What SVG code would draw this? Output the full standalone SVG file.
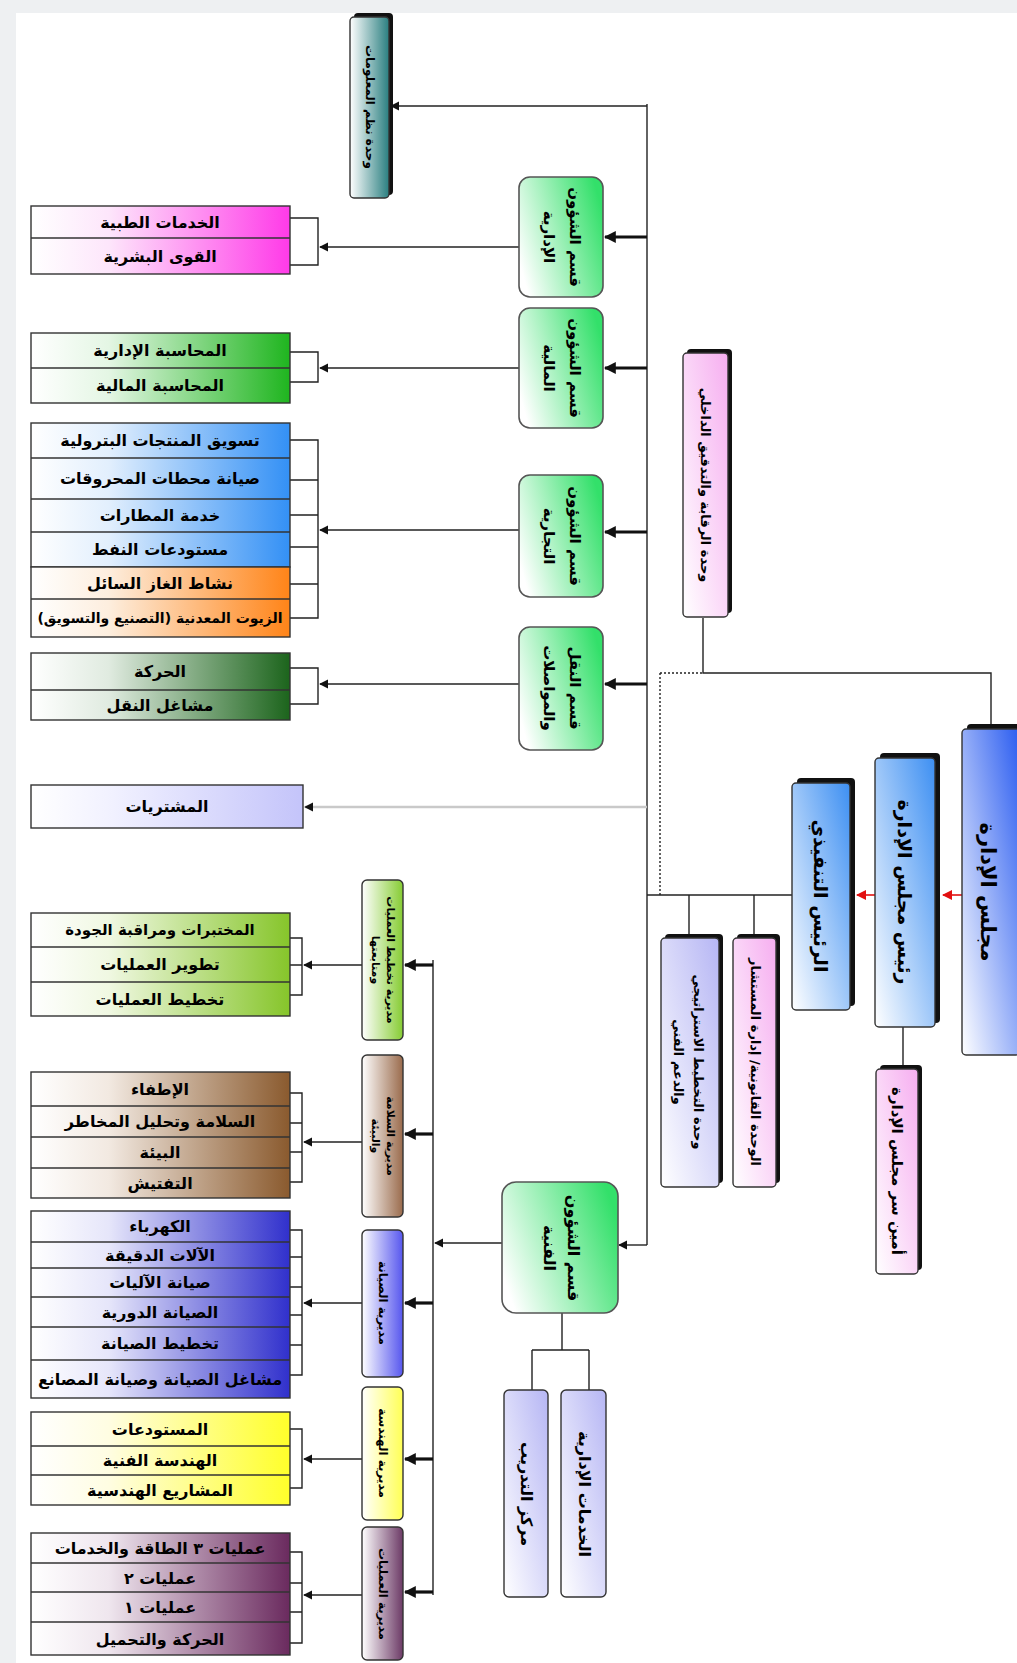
<svg xmlns="http://www.w3.org/2000/svg" width="1017" height="1663" viewBox="0 0 1017 1663">
<defs>
<style>
.t{font-family:"DejaVu Sans","Noto Sans",sans-serif;font-weight:bold;fill:#000;text-anchor:middle;dominant-baseline:central}
.it{font-size:16px}
.ln{fill:none;stroke:#222;stroke-width:1.4}
.th{fill:none;stroke:#111;stroke-width:3.2}
.box{stroke:#333;stroke-width:1.4}
.dv{stroke:#333;stroke-width:1.4}
.sh{fill:#111}
</style>
<marker id="ah" viewBox="0 0 10 10" refX="9" refY="5" markerWidth="9" markerHeight="10" markerUnits="userSpaceOnUse" orient="auto"><path d="M0,0 L10,5 L0,10 z" fill="#111"/></marker>
<marker id="ahT" viewBox="0 0 10 10" refX="9" refY="5" markerWidth="12" markerHeight="13" markerUnits="userSpaceOnUse" orient="auto"><path d="M0,0 L10,5 L0,10 z" fill="#111"/></marker>
<marker id="ahR" viewBox="0 0 10 10" refX="9" refY="5" markerWidth="10" markerHeight="10" markerUnits="userSpaceOnUse" orient="auto"><path d="M0,0 L10,5 L0,10 z" fill="#e21010"/></marker>
<linearGradient id="gPink" x1="0" y1="0" x2="1" y2="0"><stop offset="0" stop-color="#fff"/><stop offset="0.3" stop-color="#fde6fb"/><stop offset="1" stop-color="#ff3ae8"/></linearGradient>
<linearGradient id="gGreen" x1="0" y1="0" x2="1" y2="0"><stop offset="0" stop-color="#fff"/><stop offset="0.3" stop-color="#e4f6e4"/><stop offset="1" stop-color="#1fb51f"/></linearGradient>
<linearGradient id="gBlue" x1="0" y1="0" x2="1" y2="0"><stop offset="0" stop-color="#fff"/><stop offset="0.3" stop-color="#e2effd"/><stop offset="1" stop-color="#3390f5"/></linearGradient>
<linearGradient id="gOrange" x1="0" y1="0" x2="1" y2="0"><stop offset="0" stop-color="#fff"/><stop offset="0.3" stop-color="#fdeede"/><stop offset="1" stop-color="#ff8418"/></linearGradient>
<linearGradient id="gDkGreen" x1="0" y1="0" x2="1" y2="0"><stop offset="0" stop-color="#fff"/><stop offset="0.3" stop-color="#e0ebe0"/><stop offset="1" stop-color="#1c641c"/></linearGradient>
<linearGradient id="gLav" x1="0" y1="0" x2="1" y2="0"><stop offset="0" stop-color="#fff"/><stop offset="0.3" stop-color="#f1f1ff"/><stop offset="1" stop-color="#c4c4fa"/></linearGradient>
<linearGradient id="gLime" x1="0" y1="0" x2="1" y2="0"><stop offset="0" stop-color="#fff"/><stop offset="0.3" stop-color="#f0f8e2"/><stop offset="1" stop-color="#86c52a"/></linearGradient>
<linearGradient id="gBrown" x1="0" y1="0" x2="1" y2="0"><stop offset="0" stop-color="#fff"/><stop offset="0.3" stop-color="#f2e9e1"/><stop offset="1" stop-color="#8a5a2e"/></linearGradient>
<linearGradient id="gNavy" x1="0" y1="0" x2="1" y2="0"><stop offset="0" stop-color="#fff"/><stop offset="0.3" stop-color="#e6e6fa"/><stop offset="1" stop-color="#3030cc"/></linearGradient>
<linearGradient id="gYellow" x1="0" y1="0" x2="1" y2="0"><stop offset="0" stop-color="#fff"/><stop offset="0.3" stop-color="#fffde2"/><stop offset="1" stop-color="#ffff2a"/></linearGradient>
<linearGradient id="gPurple" x1="0" y1="0" x2="1" y2="0"><stop offset="0" stop-color="#fff"/><stop offset="0.3" stop-color="#efe6ee"/><stop offset="1" stop-color="#6a2a5e"/></linearGradient>
<linearGradient id="vBoard" x1="0" y1="1" x2="1" y2="0"><stop offset="0" stop-color="#fff"/><stop offset="1" stop-color="#2a5cf0"/></linearGradient>
<linearGradient id="vSky" x1="0" y1="1" x2="1" y2="0"><stop offset="0" stop-color="#fff"/><stop offset="1" stop-color="#3d8ff2"/></linearGradient>
<linearGradient id="vPink" x1="0" y1="1" x2="1" y2="0"><stop offset="0" stop-color="#fff"/><stop offset="1" stop-color="#f6aef0"/></linearGradient>
<linearGradient id="vLav" x1="0" y1="1" x2="1" y2="0"><stop offset="0" stop-color="#fff"/><stop offset="1" stop-color="#b6b6f4"/></linearGradient>
<linearGradient id="vTeal" x1="0" y1="0" x2="1" y2="0"><stop offset="0" stop-color="#fff"/><stop offset="1" stop-color="#2a7f80"/></linearGradient>
<linearGradient id="vGreen" x1="0" y1="0.7" x2="1" y2="0.3"><stop offset="0" stop-color="#fff"/><stop offset="1" stop-color="#33e06a"/></linearGradient>
<linearGradient id="vLime" x1="0" y1="0" x2="1" y2="0"><stop offset="0" stop-color="#fff"/><stop offset="1" stop-color="#86cc33"/></linearGradient>
<linearGradient id="vBrown" x1="0" y1="0" x2="1" y2="0"><stop offset="0" stop-color="#fff"/><stop offset="1" stop-color="#9a6b4c"/></linearGradient>
<linearGradient id="vNavy" x1="0" y1="0" x2="1" y2="0"><stop offset="0" stop-color="#fff"/><stop offset="1" stop-color="#5656ee"/></linearGradient>
<linearGradient id="vYellow" x1="0" y1="0" x2="1" y2="0"><stop offset="0" stop-color="#fff"/><stop offset="1" stop-color="#ffff55"/></linearGradient>
<linearGradient id="vPurple" x1="0" y1="0" x2="1" y2="0"><stop offset="0" stop-color="#fff"/><stop offset="1" stop-color="#6c3a66"/></linearGradient>
</defs>

<rect x="0" y="0" width="1017" height="1663" fill="#eef0f2"/>
<rect x="16" y="13" width="1001" height="1650" fill="#fff"/>

<!-- connectors -->
<g id="connectors">
  <path class="ln" d="M647,104 V1245"/>
  <path class="ln" d="M647,106 H391" marker-end="url(#ah)"/>
  <path class="th" d="M647,237 H605" marker-end="url(#ahT)"/>
  <path class="th" d="M647,368 H605" marker-end="url(#ahT)"/>
  <path class="th" d="M647,532 H605" marker-end="url(#ahT)"/>
  <path class="th" d="M647,684 H605" marker-end="url(#ahT)"/>
  <path d="M647,807 H305" fill="none" stroke="#c9c9c9" stroke-width="2.5" marker-end="url(#ah)"/>
  <path class="ln" d="M647,1245 H619" marker-end="url(#ah)"/>
  <path class="ln" d="M519,247 H320" marker-end="url(#ah)"/>
  <path class="ln" d="M290,218 H318 V265 H290"/>
  <path class="ln" d="M519,368 H320" marker-end="url(#ah)"/>
  <path class="ln" d="M290,352 H318 V382 H290"/>
  <path class="ln" d="M519,530 H320" marker-end="url(#ah)"/>
  <path class="ln" d="M290,440 H318 V618 H290 M290,480 H318 M290,515 H318 M290,547 H318 M290,584 H318"/>
  <path class="ln" d="M519,684 H320" marker-end="url(#ah)"/>
  <path class="ln" d="M290,668 H318 V704 H290"/>
  <path class="ln" d="M647,895 H792"/>
  <path class="ln" d="M689,895 V938 M754,895 V938"/>
  <path d="M660,673 V895 M660,673 H703" fill="none" stroke="#222" stroke-width="1.4" stroke-dasharray="2,2"/>
  <path class="ln" d="M703,618 V673 H991 V729"/>
  <path d="M962,895 H943" fill="none" stroke="#e21010" stroke-width="1.6" marker-end="url(#ahR)"/>
  <path d="M875,895 H857" fill="none" stroke="#e21010" stroke-width="1.6" marker-end="url(#ahR)"/>
  <path class="ln" d="M903,1027 V1069"/>
  <path class="ln" d="M502,1243 H435" marker-end="url(#ah)"/>
  <path class="ln" d="M433,960 V1595"/>
  <path class="th" d="M433,965 H405" marker-end="url(#ahT)"/>
  <path class="th" d="M433,1134 H405" marker-end="url(#ahT)"/>
  <path class="th" d="M433,1303 H405" marker-end="url(#ahT)"/>
  <path class="th" d="M433,1459 H405" marker-end="url(#ahT)"/>
  <path class="th" d="M433,1592 H405" marker-end="url(#ahT)"/>
  <path class="ln" d="M362,965 H304" marker-end="url(#ah)"/>
  <path class="ln" d="M290,938 H302 V995 H290 M290,965 H302"/>
  <path class="ln" d="M362,1142 H304" marker-end="url(#ah)"/>
  <path class="ln" d="M290,1093 H302 V1182 H290 M290,1123 H302 M290,1152 H302"/>
  <path class="ln" d="M362,1303 H304" marker-end="url(#ah)"/>
  <path class="ln" d="M290,1230 H302 V1375 H290 M290,1257 H302 M290,1287 H302 M290,1315 H302 M290,1345 H302"/>
  <path class="ln" d="M362,1459 H304" marker-end="url(#ah)"/>
  <path class="ln" d="M290,1429 H302 V1488 H290"/>
  <path class="ln" d="M362,1595 H304" marker-end="url(#ah)"/>
  <path class="ln" d="M290,1552 H302 V1643 H290 M290,1583 H302 M290,1612 H302"/>
  <path class="ln" d="M562,1313 V1350 M532,1350 H589 M532,1350 V1390 M589,1350 V1390"/>
</g>

<g id="board">
  <rect class="sh" x="967" y="724" width="55" height="327" rx="4"/>
  <rect class="box" x="962" y="729" width="58" height="326" rx="4" fill="url(#vBoard)"/>
  <text class="t" font-size="21" transform="translate(988,892) rotate(90)">مجلس الإدارة</text>
</g>
<g id="chairman">
  <rect class="sh" x="880" y="753" width="60" height="270" rx="4"/>
  <rect class="box" x="875" y="758" width="60" height="269" rx="4" fill="url(#vSky)"/>
  <text class="t" font-size="19" transform="translate(905,892) rotate(90)">رئيس مجلس الإدارة</text>
</g>
<g id="ceo">
  <rect class="sh" x="797" y="778" width="58" height="228" rx="4"/>
  <rect class="box" x="792" y="783" width="58" height="227" rx="4" fill="url(#vSky)"/>
  <text class="t" font-size="19" transform="translate(821,896) rotate(90)">الرئيس التنفيذي</text>
</g>
<g id="secretary">
  <rect class="sh" x="880" y="1065" width="42" height="205" rx="4"/>
  <rect class="box" x="876" y="1069" width="42" height="205" rx="4" fill="url(#vPink)"/>
  <text class="t" font-size="15" transform="translate(897,1171) rotate(90)">أمين سر مجلس الإدارة</text>
</g>
<g id="legal-unit">
  <rect class="sh" x="737" y="934" width="43" height="249" rx="4"/>
  <rect class="box" x="733" y="938" width="43" height="249" rx="4" fill="url(#vPink)"/>
  <text class="t" font-size="13" transform="translate(755,1062) rotate(90)">الوحدة القانونية/ إدارة المستشار</text>
</g>
<g id="planning-unit">
  <rect class="sh" x="665" y="934" width="58" height="249" rx="4"/>
  <rect class="box" x="661" y="938" width="58" height="249" rx="4" fill="url(#vLav)"/>
  <text class="t" font-size="13" transform="translate(698,1062) rotate(90)">وحدة التخطيط الاستراتيجي</text>
  <text class="t" font-size="13" transform="translate(678,1062) rotate(90)">والدعم الفني</text>
</g>
<g id="audit-unit">
  <rect class="sh" x="687" y="349" width="45" height="264" rx="4"/>
  <rect class="box" x="683" y="353" width="45" height="264" rx="4" fill="url(#vPink)"/>
  <text class="t" font-size="13" transform="translate(705,485) rotate(90)">وحدة الرقابة والتدقيق الداخلي</text>
</g>
<g id="it-unit">
  <rect class="sh" x="354" y="13" width="39" height="182" rx="4"/>
  <rect class="box" x="350" y="17" width="39" height="181" rx="4" fill="url(#vTeal)"/>
  <text class="t" font-size="12" transform="translate(370,107) rotate(90)">وحدة نظم المعلومات</text>
</g>

<g id="dept-admin">
  <rect x="519" y="177" width="84" height="120" rx="11" fill="url(#vGreen)" stroke="#555" stroke-width="1.6"/>
  <text class="t" font-size="15" transform="translate(575,237) rotate(90)">قسم الشؤون</text>
  <text class="t" font-size="15" transform="translate(549,237) rotate(90)">الإدارية</text>
</g>
<g id="dept-finance">
  <rect x="519" y="308" width="84" height="120" rx="11" fill="url(#vGreen)" stroke="#555" stroke-width="1.6"/>
  <text class="t" font-size="15" transform="translate(575,368) rotate(90)">قسم الشؤون</text>
  <text class="t" font-size="15" transform="translate(549,368) rotate(90)">المالية</text>
</g>
<g id="dept-commercial">
  <rect x="519" y="475" width="84" height="122" rx="11" fill="url(#vGreen)" stroke="#555" stroke-width="1.6"/>
  <text class="t" font-size="15" transform="translate(575,536) rotate(90)">قسم الشؤون</text>
  <text class="t" font-size="15" transform="translate(549,536) rotate(90)">التجارية</text>
</g>
<g id="dept-transport">
  <rect x="519" y="627" width="84" height="123" rx="11" fill="url(#vGreen)" stroke="#555" stroke-width="1.6"/>
  <text class="t" font-size="15" transform="translate(575,688) rotate(90)">قسم النقل</text>
  <text class="t" font-size="15" transform="translate(549,688) rotate(90)">والمواصلات</text>
</g>
<g id="dept-technical">
  <rect x="502" y="1182" width="116" height="131" rx="14" fill="url(#vGreen)" stroke="#555" stroke-width="1.6"/>
  <text class="t" font-size="16" transform="translate(573,1248) rotate(90)">قسم الشؤون</text>
  <text class="t" font-size="16" transform="translate(549,1248) rotate(90)">الفنية</text>
</g>
<g id="training-center">
  <rect class="box" x="504" y="1390" width="44" height="207" rx="5" fill="url(#vLav)"/>
  <text class="t" font-size="16" transform="translate(526,1494) rotate(90)">مركز التدريب</text>
</g>
<g id="admin-services">
  <rect class="box" x="561" y="1390" width="45" height="207" rx="5" fill="url(#vLav)"/>
  <text class="t" font-size="16" transform="translate(584,1494) rotate(90)">الخدمات الإدارية</text>
</g>

<g id="dir-planning">
  <rect class="box" x="362" y="880" width="41" height="160" rx="5" fill="url(#vLime)"/>
  <text class="t" font-size="11" transform="translate(390,960) rotate(90)">مديرية تخطيط العمليات</text>
  <text class="t" font-size="11" transform="translate(375,960) rotate(90)">ومتابعتها</text>
</g>
<g id="dir-safety">
  <rect class="box" x="362" y="1055" width="41" height="162" rx="5" fill="url(#vBrown)"/>
  <text class="t" font-size="11" transform="translate(390,1136) rotate(90)">مديرية السلامة</text>
  <text class="t" font-size="11" transform="translate(375,1136) rotate(90)">والبيئة</text>
</g>
<g id="dir-maintenance">
  <rect class="box" x="362" y="1230" width="41" height="147" rx="5" fill="url(#vNavy)"/>
  <text class="t" font-size="12" transform="translate(383,1303) rotate(90)">مديرية الصيانة</text>
</g>
<g id="dir-engineering">
  <rect class="box" x="362" y="1387" width="41" height="133" rx="5" fill="url(#vYellow)"/>
  <text class="t" font-size="12" transform="translate(383,1453) rotate(90)">مديرية الهندسة</text>
</g>
<g id="dir-operations">
  <rect class="box" x="362" y="1527" width="41" height="133" rx="5" fill="url(#vPurple)"/>
  <text class="t" font-size="12" transform="translate(383,1594) rotate(90)">مديرية العمليات</text>
</g>

<g id="list-admin">
  <rect class="box" x="31" y="206" width="259" height="68" fill="url(#gPink)"/>
  <line class="dv" x1="31" y1="238" x2="290" y2="238"/>
  <text class="t it" x="160" y="222">الخدمات الطبية</text>
  <text class="t it" x="160" y="256">القوى البشرية</text>
</g>
<g id="list-finance">
  <rect class="box" x="31" y="333" width="259" height="70" fill="url(#gGreen)"/>
  <line class="dv" x1="31" y1="368" x2="290" y2="368"/>
  <text class="t it" x="160" y="350">المحاسبة الإدارية</text>
  <text class="t it" x="160" y="385">المحاسبة المالية</text>
</g>
<g id="list-commercial">
  <rect class="box" x="31" y="423" width="259" height="144" fill="url(#gBlue)"/>
  <rect class="box" x="31" y="567" width="259" height="70" fill="url(#gOrange)"/>
  <line class="dv" x1="31" y1="458" x2="290" y2="458"/>
  <line class="dv" x1="31" y1="499" x2="290" y2="499"/>
  <line class="dv" x1="31" y1="532" x2="290" y2="532"/>
  <line class="dv" x1="31" y1="599" x2="290" y2="599"/>
  <text class="t it" x="160" y="440">تسويق المنتجات البترولية</text>
  <text class="t it" x="160" y="478">صيانة محطات المحروقات</text>
  <text class="t it" x="160" y="515">خدمة المطارات</text>
  <text class="t it" x="160" y="549">مستودعات النفط</text>
  <text class="t it" x="160" y="583">نشاط الغاز السائل</text>
  <text class="t" font-size="14" x="160" y="618">الزيوت المعدنية (التصنيع والتسويق)</text>
</g>
<g id="list-transport">
  <rect class="box" x="31" y="653" width="259" height="67" fill="url(#gDkGreen)"/>
  <line class="dv" x1="31" y1="690" x2="290" y2="690"/>
  <text class="t it" x="160" y="671">الحركة</text>
  <text class="t it" x="160" y="705">مشاغل النقل</text>
</g>
<g id="purchases">
  <rect class="box" x="31" y="785" width="272" height="43" fill="url(#gLav)"/>
  <text class="t it" x="167" y="806">المشتريات</text>
</g>
<g id="list-planning">
  <rect class="box" x="31" y="913" width="259" height="103" fill="url(#gLime)"/>
  <line class="dv" x1="31" y1="947" x2="290" y2="947"/>
  <line class="dv" x1="31" y1="982" x2="290" y2="982"/>
  <text class="t" font-size="15" x="160" y="930">المختبرات ومراقبة الجودة</text>
  <text class="t it" x="160" y="964">تطوير العمليات</text>
  <text class="t it" x="160" y="999">تخطيط العمليات</text>
</g>
<g id="list-safety">
  <rect class="box" x="31" y="1072" width="259" height="126" fill="url(#gBrown)"/>
  <line class="dv" x1="31" y1="1106" x2="290" y2="1106"/>
  <line class="dv" x1="31" y1="1137" x2="290" y2="1137"/>
  <line class="dv" x1="31" y1="1168" x2="290" y2="1168"/>
  <text class="t it" x="160" y="1089">الإطفاء</text>
  <text class="t it" x="160" y="1121">السلامة وتحليل المخاطر</text>
  <text class="t it" x="160" y="1152">البيئة</text>
  <text class="t it" x="160" y="1183">التفتيش</text>
</g>
<g id="list-maintenance">
  <rect class="box" x="31" y="1211" width="259" height="187" fill="url(#gNavy)"/>
  <line class="dv" x1="31" y1="1242" x2="290" y2="1242"/>
  <line class="dv" x1="31" y1="1268" x2="290" y2="1268"/>
  <line class="dv" x1="31" y1="1297" x2="290" y2="1297"/>
  <line class="dv" x1="31" y1="1327" x2="290" y2="1327"/>
  <line class="dv" x1="31" y1="1360" x2="290" y2="1360"/>
  <text class="t it" x="160" y="1226">الكهرباء</text>
  <text class="t it" x="160" y="1255">الآلات الدقيقة</text>
  <text class="t it" x="160" y="1282">صيانة الآليات</text>
  <text class="t it" x="160" y="1312">الصيانة الدورية</text>
  <text class="t it" x="160" y="1343">تخطيط الصيانة</text>
  <text class="t it" x="160" y="1379">مشاغل الصيانة وصيانة المصانع</text>
</g>
<g id="list-engineering">
  <rect class="box" x="31" y="1412" width="259" height="93" fill="url(#gYellow)"/>
  <line class="dv" x1="31" y1="1446" x2="290" y2="1446"/>
  <line class="dv" x1="31" y1="1475" x2="290" y2="1475"/>
  <text class="t it" x="160" y="1429">المستودعات</text>
  <text class="t it" x="160" y="1460">الهندسة الفنية</text>
  <text class="t it" x="160" y="1490">المشاريع الهندسية</text>
</g>
<g id="list-operations">
  <rect class="box" x="31" y="1533" width="259" height="122" fill="url(#gPurple)"/>
  <line class="dv" x1="31" y1="1563" x2="290" y2="1563"/>
  <line class="dv" x1="31" y1="1592" x2="290" y2="1592"/>
  <line class="dv" x1="31" y1="1622" x2="290" y2="1622"/>
  <text class="t it" x="160" y="1548">عمليات ٣ الطاقة والخدمات</text>
  <text class="t it" x="160" y="1578">عمليات ٢</text>
  <text class="t it" x="160" y="1607">عمليات ١</text>
  <text class="t it" x="160" y="1639">الحركة والتحميل</text>
</g>
</svg>
